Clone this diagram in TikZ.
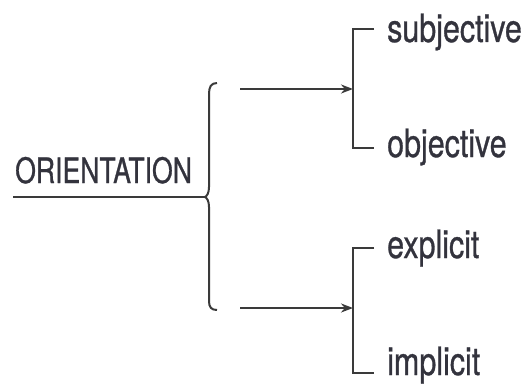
\documentclass[tikz,border=0pt]{standalone}
\usepackage{fontspec}
\setmainfont[FakeStretch=0.76,FakeBold=0.8]{TeX Gyre Heros}
\newfontfamily\lowfont[FakeStretch=0.78,FakeBold=0.8]{TeX Gyre Heros}
\usetikzlibrary{arrows.meta}
\definecolor{ink}{HTML}{33333D}
\definecolor{linec}{HTML}{3A3A3A}
\tikzset{
  lbl/.style={anchor=base west, inner sep=0pt, text=ink, font=\lowfont\fontsize{39}{40}\selectfont},
  conn/.style={draw=linec, line width=2.2pt},
  arr/.style={conn, -{Stealth[length=12pt,width=9pt]}},
}
\begin{document}
\begin{tikzpicture}[x=1pt,y=-1pt]
\useasboundingbox (0,0) rectangle (524,385);
% main label
\node[anchor=base west, inner sep=0pt, text=ink, font=\fontsize{35}{36}\selectfont] (ori) at (15,183) {ORIENTATION};
\coordinate (ul) at (13,197);
\coordinate (tip) at (205,197);
\draw[conn] (ul) -- (tip);
% brace
\coordinate (btop) at (217,83);
\coordinate (bbot) at (217,310);
\draw[conn, line width=2pt] (btop) .. controls (211,83) and (209,87) .. (209,94)
  -- (209,187) .. controls (209,193) and (207,196) .. (tip)
  .. controls (207,198) and (209,201) .. (209,207)
  -- (209,301) .. controls (209,307) and (211,310) .. (bbot);
% arrows
\coordinate (a1s) at (240,89);
\coordinate (a2s) at (240,308);
\coordinate (k1) at (353,89);
\coordinate (k2) at (353,308);
\draw[arr] (a1s) -- (k1);
\draw[arr] (a2s) -- (k2);
% right brackets
\node[lbl] (subj) at (387,42) {subjective};
\node[lbl] (obj) at (387,157) {objective};
\node[lbl] (expl) at (387,258) {explicit};
\node[lbl] (impl) at (387,375) {implicit};
\draw[conn] (374,29) -| (353,148) -- (374,148);
\draw[conn] (374,248) -| (353,373) -- (374,373);
\end{tikzpicture}
\end{document}
